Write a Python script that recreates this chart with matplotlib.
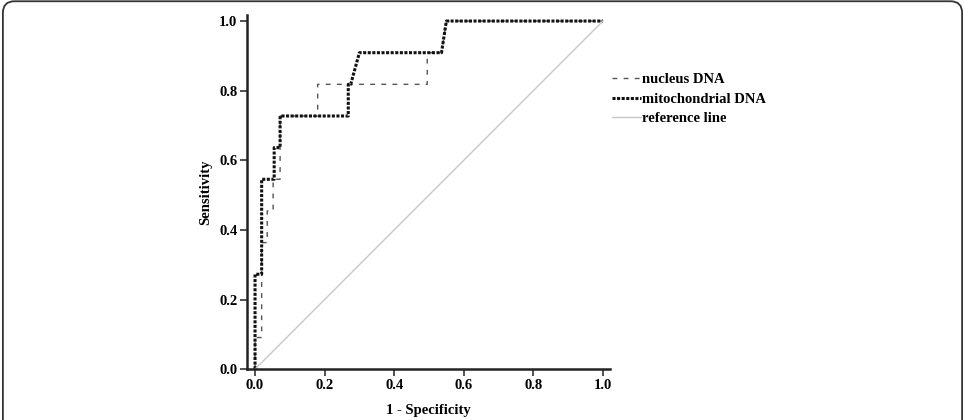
import matplotlib
matplotlib.use('Agg')
import matplotlib.pyplot as plt
from matplotlib.patches import FancyBboxPatch

# ROC step points (1 - specificity, sensitivity)
nucleus_fpr = [0, 0, 0.019, 0.019, 0.035, 0.035, 0.052, 0.052, 0.072, 0.072,
               0.18, 0.18, 0.495, 0.495, 0.536, 0.55, 1.0]
nucleus_tpr = [0, 1/11, 1/11, 4/11, 4/11, 5/11, 5/11, 6/11, 6/11, 8/11,
               8/11, 9/11, 9/11, 10/11, 10/11, 1.0, 1.0]

mito_fpr = [0, 0, 0.019, 0.019, 0.055, 0.055, 0.072, 0.072, 0.268, 0.268,
            0.275, 0.30, 0.536, 0.55, 1.0]
mito_tpr = [0, 3/11, 3/11, 6/11, 6/11, 7/11, 7/11, 8/11, 8/11, 9/11,
            9/11, 10/11, 10/11, 1.0, 1.0]

ref_x = [0, 1]
ref_y = [0, 1]

ticks = [0.0, 0.2, 0.4, 0.6, 0.8, 1.0]

plt.rcParams['font.family'] = ['Liberation Serif', 'DejaVu Serif']
plt.rcParams['font.weight'] = 'bold'

fig = plt.figure(figsize=(9.65, 4.2), dpi=100)
ax = fig.add_axes([0.256, 0.121, 0.376, 0.843])

ax.plot(nucleus_fpr, nucleus_tpr, color='#555555', lw=1.0,
        linestyle=(0, (3.5, 4.5)), label='nucleus DNA')
ax.plot(mito_fpr, mito_tpr, color='#111111', lw=2.2,
        linestyle=(0, (1.0, 0.5)), label='mitochondrial DNA')
ax.plot(ref_x, ref_y, color='#c8c8c8', lw=1.0, label='reference line')

ax.set_xlim(-0.023, 1.02)
ax.set_ylim(0, 1.017)
ax.set_xticks(ticks)
ax.set_yticks(ticks)
ax.set_xticklabels([f'{t:.1f}' for t in ticks])
ax.set_yticklabels([f'{t:.1f}' for t in ticks])
ax.tick_params(direction='out', length=5, width=1.2, labelsize=10.5, pad=2,
               color='#333333')
for s in ['top', 'right']:
    ax.spines[s].set_visible(False)
for s in ['left', 'bottom']:
    ax.spines[s].set_linewidth(1.8)
    ax.spines[s].set_color('#222222')

ax.set_xlabel('1 - Specificity', fontsize=10.5, fontweight='bold', labelpad=9)
ax.set_ylabel('Sensitivity', fontsize=10.5, fontweight='bold', labelpad=5)

fig.legend(loc='upper left', bbox_to_anchor=(0.634, 0.826), frameon=False,
           fontsize=10.5, handlelength=2.0, handletextpad=0.05,
           labelspacing=0.42, borderpad=0, borderaxespad=0)

# rounded frame around the panel
frame = FancyBboxPatch((0.003, -0.05), 0.994, 1.047,
                       boxstyle='round,pad=0,rounding_size=0.012',
                       mutation_aspect=965 / 420,
                       transform=fig.transFigure, fill=False,
                       ec='#333333', lw=1.3)
fig.patches.append(frame)

fig.savefig('out.png', dpi=100)
